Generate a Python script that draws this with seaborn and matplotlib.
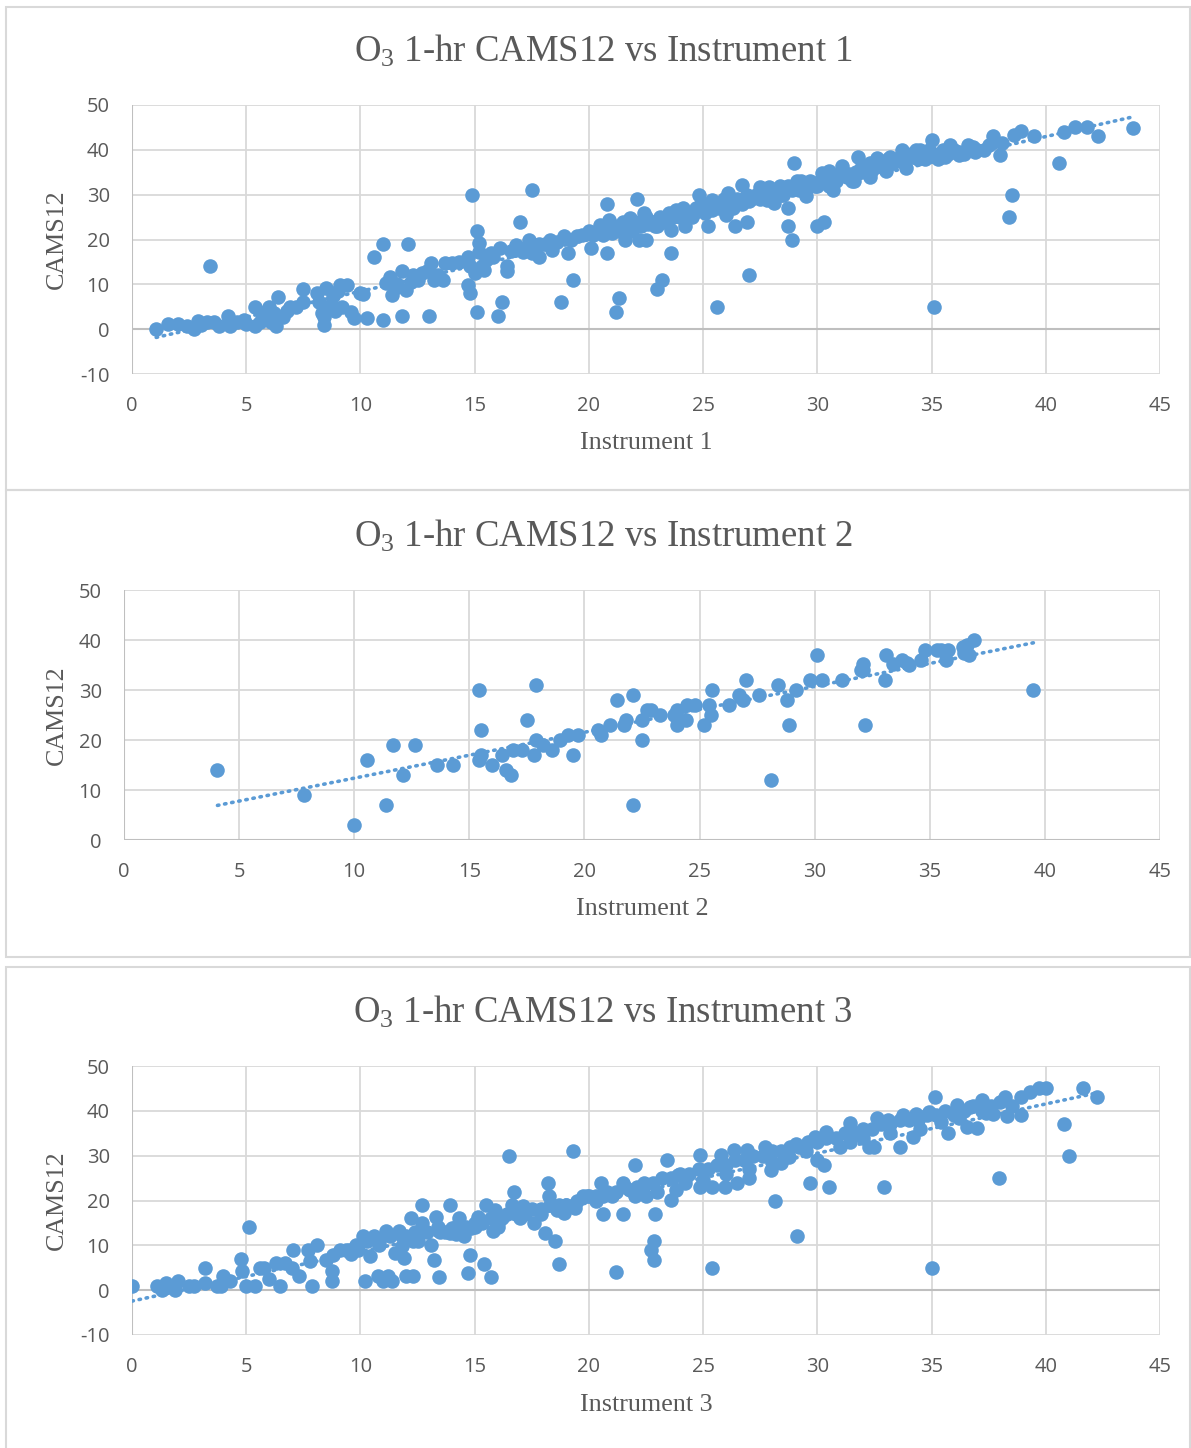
import numpy as np
import pandas as pd
import seaborn as sns
import matplotlib.pyplot as plt
from matplotlib.patches import Rectangle

# Instrument 1 vs CAMS12
inst1_x = [1.06, 1.58, 2.4, 2.7, 2.9, 3.3, 3.4, 3.6, 3.8, 4.2, 4.3, 5.0, 5.4, 5.4, 5.7, 6.0, 6.1, 6.3, 6.4, 6.6,
           6.9, 7.5, 7.5, 8.1, 8.3, 8.4, 8.4, 8.5, 8.7, 8.8, 9.1, 9.4, 9.6, 9.7, 10.0, 10.1, 10.3, 10.6, 11.0, 11.0,
           11.1, 11.3, 11.4, 11.5, 11.8, 11.8, 12.0, 12.1, 12.2, 12.5, 12.7, 13.1, 13.0, 13.2, 13.6, 13.7, 14.0, 14.7, 14.8, 14.7,
           14.8, 14.9, 15.0, 15.1, 15.1, 15.2, 15.2, 15.4, 15.5, 15.8, 16.0, 16.1, 16.2, 16.4, 16.4, 16.8, 17.0, 17.1, 17.4, 17.5,
           17.5, 17.8, 18.3, 18.4, 18.8, 18.9, 19.1, 19.3, 19.5, 20.0, 20.1,
           2.0, 3.0, 4.6, 4.9, 5.6, 5.9, 6.2, 6.8, 7.2, 8.2, 8.9, 9.2, 9.0, 11.6, 12.3, 12.9, 13.4, 14.3, 15.3, 15.7,
           16.6, 17.3, 17.8, 18.1, 18.6, 19.2, 19.7,
           20.5, 20.8, 20.8, 20.9, 21.2, 21.3, 21.6, 21.8, 22.1, 22.2, 22.4, 22.5, 22.8, 23.0, 23.0, 23.2, 23.6, 23.6, 23.8, 24.2,
           24.8, 25.2, 25.4, 25.6, 26.0, 26.1, 26.4, 26.7, 26.9, 27.0, 27.5, 27.8, 27.9, 28.1, 28.35, 28.7, 28.7, 28.9, 29.0, 29.1,
           29.5, 30.0, 30.3, 30.2, 30.5, 30.7, 31.1, 31.6, 31.8, 32.3, 32.6, 33.0, 33.2, 33.7, 33.9, 34.2, 34.5, 35.0, 35.1, 35.4,
           35.8, 36.2, 36.8, 37.3, 37.7, 38.0, 38.1, 38.4, 38.5, 38.6, 38.9, 39.5, 40.6, 40.8, 41.3, 41.8, 42.3, 43.8,
           20.2, 20.4, 20.6, 20.9, 21.1, 21.3, 21.5, 21.7, 21.9, 22.0, 22.3, 22.5, 22.7, 22.9, 23.1, 23.3, 23.5, 23.7, 23.9, 24.1,
           24.3, 24.5, 24.7, 24.9, 25.1, 25.3, 25.5, 25.7, 25.9, 26.1, 26.3, 26.5, 26.7, 26.9, 27.1, 27.3, 27.5, 27.7, 27.9, 28.1,
           28.3, 28.5, 28.7, 28.9, 29.1, 29.3, 29.5, 29.7, 29.9, 30.1, 30.3, 30.5, 30.7, 30.9, 31.1, 31.3, 31.5, 31.7, 31.9, 32.1,
           32.3, 32.5, 32.7, 32.9, 33.1, 33.3, 33.5, 33.7, 33.9, 34.1, 34.3, 34.5, 34.7, 34.9, 35.1, 35.3, 35.5, 35.7, 36.0, 36.4,
           36.6, 37.0, 37.5,
           21.0, 21.8, 22.6, 23.4, 24.0, 24.6, 25.4, 26.2, 27.0, 27.6, 28.4, 29.2, 30.0, 30.8, 31.4, 32.2, 33.0, 33.8, 34.4, 35.6,
           36.2, 36.9]
cams1_y = [0, 1.1, 0.7, 0, 1.9, 1.7, 14, 1.5, 0.7, 3, 0.7, 1.2, 0.6, 4.9, 3.6, 4.9, 1.7, 0.7, 7.1, 2.8,
           4.9, 9, 6, 8, 3.6, 2.8, 1.0, 9.1, 5.4, 7.3, 9.9, 9.9, 3.9, 2.5, 8, 7.9, 2.5, 16, 19, 2.1,
           10.3, 11.7, 7.7, 9.1, 3, 12.9, 8.8, 19, 10.6, 11, 12.5, 14.7, 3, 11, 11, 14.7, 14.7, 16.2, 14, 9.9,
           8, 30, 12.5, 22, 3.9, 19.2, 17.3, 13.2, 15.5, 16.2, 3, 18, 6, 14, 12.9, 18.8, 24, 17.3, 20, 31,
           17, 16.2, 20, 17.7, 6, 20.7, 17, 11, 20.7, 21.8, 18,
           1.2, 1, 1.5, 2, 1.5, 2.5, 3.5, 4, 5, 6, 4, 5, 8.5, 10, 12, 13, 12, 15, 14, 17,
           17.5, 18, 19, 19, 19.5, 20, 21,
           23.3, 28, 17, 24.4, 3.9, 6.9, 20, 24.8, 29, 20, 25.9, 20, 24, 22.9, 8.9, 11, 22.2, 17, 26.6, 22.9,
           30, 22.9, 28.8, 4.9, 25.5, 30.3, 22.9, 32.2, 24, 12, 31.8, 28.8, 31.8, 28.1, 32, 23, 27, 20, 37, 33,
           29.6, 22.9, 24, 34.8, 35.2, 31.1, 36.3, 33, 38.5, 34, 38.1, 35.2, 38.5, 40, 35.9, 38.5, 40, 42.2, 4.9, 38.5,
           41.1, 38.9, 40.7, 40, 43, 38.9, 41.5, 25, 30, 43.3, 44.1, 43.1, 37, 43.9, 45.2, 45.2, 43, 44.8,
           21, 22, 21, 22, 23, 22, 24, 23, 22, 24, 23, 25, 24, 23, 25, 24, 26, 25, 26, 27,
           26, 25, 27, 28, 26, 27, 28, 27, 29, 28, 27, 29, 28, 30, 29, 30, 29, 31, 30, 30,
           31, 30, 32, 31, 32, 33, 31, 33, 32, 33, 34, 32, 33, 34, 35, 34, 33, 35, 36, 35,
           37, 36, 37, 36, 38, 37, 38, 39, 38, 39, 40, 39, 38, 40, 39, 38, 40, 39, 40, 39,
           41, 40, 41,
           21.5, 22.5, 23.5, 24, 25, 26, 26.5, 27.5, 28.5, 29.5, 30, 31, 32, 33, 34.5, 35.5, 36, 37, 38, 38.5,
           39.5, 39.5]

# Instrument 2 vs CAMS12
inst2_x = [4.06, 7.8, 10.0, 10.55, 11.4, 11.7, 12.1, 12.65, 13.6, 14.3, 15.4, 15.5, 15.4, 15.5, 16.0, 16.6, 16.8, 16.4, 16.9, 17.3,
           17.5, 17.8, 17.9, 17.9, 18.2, 18.6, 18.95, 19.3, 19.5, 19.7, 20.6, 20.7, 21.1, 21.4, 21.7, 21.8, 22.1, 22.1, 22.5, 22.5,
           22.7, 23.3, 24.0, 24.0, 24.4, 24.45, 24.8, 25.2, 25.5, 25.55, 25.4, 26.3, 26.7, 27.0, 27.6, 28.1, 28.4, 28.8, 28.9, 29.2,
           29.8, 30.1, 30.3, 31.2, 32.1, 32.1, 32.2, 33.05, 33.1, 33.4, 33.8, 34.1, 34.6, 34.8, 35.3, 35.7, 35.8, 36.45, 36.7, 36.9,
           39.5, 22.9, 23.9, 26.9, 32.0, 34.0, 35.5, 36.5, 36.6]
cams2_y = [14, 9, 3, 16, 7, 19, 13, 19, 15, 15, 30, 22, 16, 17, 15, 14, 13, 17, 18, 18,
           24, 17, 31, 20, 19, 18, 20, 21, 17, 21, 22, 21, 23, 28, 23, 24, 29, 7, 20, 24,
           26, 25, 26, 23, 24, 27, 27, 23, 25, 30, 27, 27, 29, 32, 29, 12, 31.1, 28, 23, 30,
           32, 37, 32, 32, 34, 35.3, 23, 32, 37, 35.3, 36, 35, 36, 38, 38, 36, 38, 38.7, 37, 40,
           30, 26, 25, 28, 34, 35.5, 38, 37.5, 39]

# Instrument 3 vs CAMS12
inst3_x = [0, 1.1, 1.3, 1.5, 1.9, 2.0, 2.5, 2.7, 3.2, 3.2, 3.7, 3.9, 4.0, 4.3, 4.75, 4.8, 5.0, 5.1, 5.4, 5.6,
           5.8, 6.0, 6.3, 6.5, 6.7, 7.0, 7.05, 7.3, 7.7, 7.8, 7.9, 8.1, 8.5, 8.75, 8.75, 8.8, 9.1, 9.35, 9.9, 10.1,
           10.2, 10.4, 10.6, 10.75, 11.0, 11.1, 11.2, 11.4, 11.5, 11.7, 11.8, 11.9, 12.0, 12.3, 12.2, 12.3, 12.5, 12.7, 12.7, 13.1,
           13.2, 13.3, 13.45, 13.9, 13.9, 14.0, 14.3, 14.55, 14.7, 14.8, 14.85, 15.15, 15.4, 15.5, 15.7, 15.8, 15.9, 16.2, 16.5, 16.7,
           16.65, 17.1, 17.6, 18.1, 18.2, 18.25, 18.5, 18.7, 18.6, 18.9, 19.3, 19.4, 19.75, 20.0, 20.55, 20.6, 20.6, 21.2, 21.5, 21.5,
           22.0, 21.8, 22.5, 22.9, 22.85, 22.7, 22.85,
           23.4, 23.6, 23.8, 23.9, 24.85, 24.85, 25.4, 25.4, 25.8, 25.95, 26.35, 26.5, 26.9, 27.0, 27.7, 27.95, 28.15, 28.4, 28.75, 29.05,
           29.1, 29.7, 29.9, 30.0, 30.3, 30.4, 30.5, 31.45, 31.45, 32.25, 32.5, 32.6, 32.9, 33.1, 33.6, 33.75, 34.2, 34.3, 34.9, 35.0,
           35.15, 35.7, 36.1, 36.55, 36.7, 37.0, 37.2, 37.7, 37.95, 38.2, 38.3, 38.9, 38.9, 39.3, 39.7, 40.0, 40.8, 41.0, 41.65, 42.26,
           9.5, 9.8, 10.3, 10.8, 11.3, 11.8, 12.4, 12.9, 13.4, 13.7, 14.2, 14.6, 15.0, 15.3, 15.7, 16.0, 16.4, 16.8, 17.2, 17.5,
           17.9, 18.3, 18.7, 19.0, 19.5, 19.9, 20.3, 20.8, 21.2, 21.6, 22.1, 22.4, 22.8, 23.2, 23.6, 24.0, 24.4, 24.8, 25.2, 25.6,
           26.0, 26.4, 26.8, 27.2, 27.6, 28.0, 28.4, 28.8, 29.2, 29.6, 30.0, 30.4, 30.8, 31.2, 31.6, 32.0, 32.4, 32.8, 33.2, 33.6,
           34.0, 34.4, 34.8, 35.2, 35.6, 36.0, 36.4, 36.8, 37.2, 37.6, 38.0, 38.5,
           9.6, 10.8, 12.0, 13.5, 14.2, 15.0, 16.0, 17.0, 17.9, 19.0, 20.3, 21.0, 22.0, 23.0, 24.2, 25.0, 26.0, 27.0, 28.0, 29.5,
           31.0, 32.0, 33.2, 34.5, 35.4, 36.2, 37.4]
cams3_y = [0.9, 0.9, 0, 1.5, 0.1, 2, 0.9, 0.9, 1.6, 5, 0.9, 0.9, 3.1, 2, 7, 4.2, 0.9, 14, 0.9, 5,
           5, 2.4, 6.1, 0.9, 6.1, 5, 9, 3.1, 9, 6.4, 0.9, 10.1, 6.8, 2, 4.2, 7.9, 9, 9, 9, 12,
           2, 7.6, 12, 3.1, 2, 13.1, 3.1, 2, 8.3, 13.1, 9.8, 7.2, 3.1, 3.1, 16, 10.9, 10.9, 19, 15, 10.1,
           6.8, 16.4, 2.9, 12.7, 19, 13.9, 16, 12, 3.9, 7.9, 13.9, 16.4, 5.9, 19, 2.9, 13.1, 17.9, 16, 30, 22,
           19, 18.7, 15, 12.7, 24, 20.9, 10.9, 5.9, 17.9, 17.2, 31, 18.3, 20.9, 20.9, 24, 17, 20.9, 4, 17, 23.9,
           27.9, 22.4, 20.9, 17, 10.9, 9, 6.8,
           29, 20.1, 22.4, 25.7, 30.1, 23.1, 5, 23.1, 30.1, 23.1, 31.3, 23.9, 31.3, 25, 32, 26.8, 20, 28.3, 29.8, 32.7,
           12, 24, 34.2, 29, 27.9, 35.3, 23, 37.2, 33.1, 32, 32, 38.3, 23, 37.9, 32, 39, 34.2, 39.4, 39.8, 4.9,
           43.1, 35, 41.3, 36.4, 40.9, 36.1, 42.4, 39.4, 25, 43.1, 38.8, 39, 43.1, 44.2, 45, 45, 37, 30, 45.2, 43.1,
           9, 10, 11, 11, 12, 12, 13, 13, 14, 13, 14, 14, 15, 15, 16, 15, 17, 17, 17, 18,
           18, 19, 19, 19, 20, 21, 21, 22, 22, 23, 23, 24, 24, 25, 25, 26, 26, 27, 27, 28,
           28, 29, 29, 30, 30, 31, 31, 32, 32, 33, 33, 34, 34, 35, 35, 36, 36, 37, 37, 38,
           38, 38, 39, 39, 40, 39, 40, 41, 40, 41, 42, 41,
           8, 10, 12, 13, 12.5, 14, 14, 16, 17, 19, 20, 21, 21, 22, 24, 24.5, 26, 27, 28.5, 31,
           32, 34, 35, 36, 37.5, 38.5, 39.5]

titles = ["Instrument 1", "Instrument 2", "Instrument 3"]
y_limits = [(-10, 50), (0, 50), (-10, 50)]

blue = "#5B9BD5"
text_grey = "#595959"

sns.set_theme(style="white")
plt.rcParams["font.family"] = ["Open Sans", "DejaVu Sans"]
plt.rcParams["mathtext.fontset"] = "custom"
plt.rcParams["mathtext.rm"] = "Liberation Serif"
plt.rcParams["axes.unicode_minus"] = False

fig = plt.figure(figsize=(11.91, 14.48), dpi=100)
W, H = 1191, 1448

# chart boxes (pixel top/bottom)
boxes = [(7, 490), (490, 957), (967, 1460)]
for top, bot in boxes:
    fig.add_artist(Rectangle((6 / W, 1 - bot / H), 1184 / W, (bot - top) / H,
                             transform=fig.transFigure, fill=False,
                             edgecolor="#D9D9D9", linewidth=1.5))

# plot areas in pixels: left, top, right, bottom
areas = [(132, 105, 1160, 374), (124, 590, 1160, 840), (132, 1066, 1160, 1335)]
title_base = [62, 547, 1023]
xlabel_y = [443, 909, 1405]

datasets = [(inst1_x, cams1_y), (inst2_x, cams2_y), (inst3_x, cams3_y)]

for i, ((xs, ys), (l, t, r, b)) in enumerate(zip(datasets, areas)):
    ax = fig.add_axes([l / W, 1 - b / H, (r - l) / W, (b - t) / H])
    df = pd.DataFrame({"x": xs, "y": ys})
    sns.regplot(data=df, x="x", y="y", ax=ax, ci=None, truncate=True,
                scatter_kws=dict(s=110, color=blue, alpha=1, linewidths=0, zorder=3),
                line_kws=dict(color=blue, linestyle=(0, (0.4, 1.6)), linewidth=2.6,
                              dash_capstyle="round", zorder=4))
    ax.set_xlim(0, 45)
    ax.set_ylim(*y_limits[i])
    ax.set_xticks(range(0, 46, 5))
    ax.set_yticks(range(y_limits[i][0], 51, 10))
    for s in ax.spines.values():
        s.set_visible(False)
    ax.grid(True, color="#D9D9D9", linewidth=1.3)
    ax.set_axisbelow(True)
    ax.axhline(0, color="#BFBFBF", linewidth=1.5, zorder=1)
    ax.axvline(0, color="#BFBFBF", linewidth=1.5, zorder=1)
    ax.tick_params(length=0, labelsize=14.5, labelcolor=text_grey)
    ax.tick_params(axis="x", pad=16)
    ax.tick_params(axis="y", pad=16)

    ax.set_xlabel(titles[i], family="Liberation Serif", fontsize=18.7, color=text_grey, va="center")
    ax.xaxis.set_label_coords(0.5, (b - xlabel_y[i]) / (b - t))
    ax.set_ylabel("CAMS12", family="Liberation Serif", fontsize=18.7, color=text_grey, va="center")
    ax.yaxis.set_label_coords((57 - l) / (r - l), 0.5)

    fig.text(603 / W, 1 - title_base[i] / H,
             r"$\mathrm{O_3}$ 1-hr CAMS12 vs " + titles[i],
             family="Liberation Serif", fontsize=26.5, color=text_grey,
             ha="center", va="baseline")

fig.savefig("out.png", dpi=100, facecolor="white")
